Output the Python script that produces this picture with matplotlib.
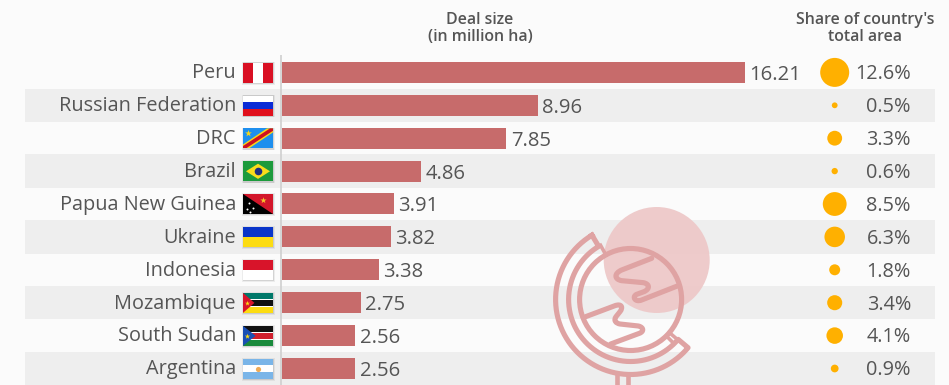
import numpy as np
import matplotlib
matplotlib.use("Agg")
import matplotlib.pyplot as plt
from matplotlib.patches import Circle, Rectangle, Polygon, PathPatch
from matplotlib.path import Path

countries = ["Peru", "Russian Federation", "DRC", "Brazil", "Papua New Guinea",
             "Ukraine", "Indonesia", "Mozambique", "South Sudan", "Argentina"]
deal_size = [16.21, 8.96, 7.85, 4.86, 3.91, 3.82, 3.38, 2.75, 2.56, 2.56]
share_pct = [12.6, 0.5, 3.3, 0.6, 8.5, 6.3, 1.8, 3.4, 4.1, 0.9]
header_deal = "Deal size\n(in million ha)"
header_share = "Share of country's\ntotal area"

BG = "#fbfbfb"; BAND = "#eeeeee"; BAR = "#c76b6b"; TXT = "#555555"; GOLD = "#ffb000"
W, H = 949, 385
plt.rcParams["font.family"] = ["Open Sans", "DejaVu Sans"]
fig = plt.figure(figsize=(W/100, H/100), dpi=100, facecolor=BG)

px = fig.add_axes([0, 0, 1, 1], zorder=1)
px.set_xlim(0, W); px.set_ylim(H, 0); px.axis("off")

Y0, DY = 72.4, 32.9
PX_PER_UNIT = 28.56
X0 = 282
ax = fig.add_axes([X0/W, 0, 1-X0/W, 1], zorder=2)
ax.patch.set_alpha(0)
ax.set_xlim(0, (W-X0)/PX_PER_UNIT)
ax.set_ylim((H-Y0)/DY, -Y0/DY)
ax.axis("off")

rows = np.arange(len(countries))
FS = 14.3
for i in rows:
    yc = Y0 + DY*i
    if i % 2 == 1:
        px.add_patch(Rectangle((25, yc-16.7), 910, 33.4, fc=BAND, ec="none", zorder=0))
    px.text(236, yc+0.8, countries[i], ha="right", va="center", fontsize=FS, color=TXT, zorder=5)

ax.barh(rows, deal_size, height=21/DY, color=BAR, zorder=2)
for i in rows:
    ax.annotate(f"{deal_size[i]:.2f}", (deal_size[i], i), xytext=(3.2, -1.8), textcoords="offset points",
                ha="left", va="center", fontsize=14.6, color=TXT)
    px.text(911, Y0+DY*i+1.8, f"{share_pct[i]:.1f}%", ha="right", va="center", fontsize=FS, color=TXT, zorder=5)

px.scatter([834.7]*len(rows), Y0+DY*rows, s=np.array(share_pct)*34.6, color=GOLD, linewidths=0, zorder=4)
px.plot([281.3, 281.3], [55, H], color="#cfcfcf", lw=1.2, zorder=3, solid_capstyle="butt")

px.text(480, 28.3, header_deal, ha="center", va="center", fontsize=11.4, color=TXT,
        fontweight="semibold", linespacing=1.12)
px.text(865, 28.3, header_share, ha="center", va="center", fontsize=11.4, color=TXT,
        fontweight="semibold", linespacing=1.12)

FX, FW, FH = 243, 30, 20
def flag(i, draw):
    y = Y0 + DY*i - FH/2 + 0.2
    for grow, al in ((1.4, 0.06), (0.7, 0.10)):
        px.add_patch(Rectangle((FX-grow+0.3, y-grow+0.5), FW+2*grow, FH+2*grow, fc="#000000", alpha=al, ec="none", zorder=3))
    clip = Rectangle((FX, y), FW, FH, transform=px.transData)
    def R(u, v, w, h, c):
        p = Rectangle((FX+u*FW, y+v*FH), w*FW, h*FH, fc=c, ec="none", zorder=4)
        px.add_patch(p); p.set_clip_path(clip)
    def P(pts, c):
        p = Polygon([(FX+a*FW, y+b*FH) for a, b in pts], closed=True, fc=c, ec="none", zorder=4.2)
        px.add_patch(p); p.set_clip_path(clip)
    def S(u, v, s, c, m="*"):
        px.scatter([FX+u*FW], [y+v*FH], s=s, c=c, marker=m, linewidths=0, zorder=4.4)
    draw(R, P, S)

def peru(R, P, S):
    R(0, 0, 1/3, 1, "#d91023"); R(1/3, 0, 1/3, 1, "#ffffff"); R(2/3, 0, 1/3, 1, "#d91023")
def russia(R, P, S):
    R(0, 0, 1, 1/3, "#ffffff"); R(0, 1/3, 1, 1/3, "#0a2bd6"); R(0, 2/3, 1, 1/3, "#e0101c")
def drc(R, P, S):
    R(0, 0, 1, 1, "#1e8fee")
    P([(0, .8), (0, 1), (.2, 1), (1, .2), (1, 0), (.8, 0)], "#f7d618")
    P([(0, .88), (0, 1), (.1, 1), (1, .12), (1, 0), (.9, 0)], "#ce1021")
    S(.16, .22, 26, "#f7d618")
def brazil(R, P, S):
    R(0, 0, 1, 1, "#1c9a3c")
    P([(.5, .12), (.9, .5), (.5, .88), (.1, .5)], "#f9dc1c")
    S(.5, .5, 30, "#1f2f80", "o")
def png(R, P, S):
    R(0, 0, 1, 1, "#000000")
    P([(0, 0), (1, 0), (1, 1)], "#d3162a")
    S(.68, .3, 22, "#f6c52c")
    for u, v in [(.2, .45), (.32, .68), (.15, .75), (.25, .9)]:
        S(u, v, 2, "#ffffff", "o")
def ukraine(R, P, S):
    R(0, 0, 1, .5, "#0a35c9"); R(0, .5, 1, .5, "#fcdc12")
def indonesia(R, P, S):
    R(0, 0, 1, .5, "#d8142a"); R(0, .5, 1, .5, "#ffffff")
def mozambique(R, P, S):
    R(0, 0, 1, .31, "#00786a"); R(0, .31, 1, .38, "#ffffff")
    R(0, .36, 1, .28, "#111111"); R(0, .69, 1, .31, "#fcdc12")
    P([(0, 0), (.38, .5), (0, 1)], "#d8142a")
    S(.13, .5, 14, "#fcdc12")
def south_sudan(R, P, S):
    R(0, 0, 1, .31, "#111111"); R(0, .31, 1, .38, "#ffffff")
    R(0, .36, 1, .28, "#d01f2e"); R(0, .69, 1, .31, "#1a8a3c")
    P([(0, 0), (.42, .5), (0, 1)], "#1a4fb4")
    S(.15, .5, 16, "#fcdc12")
def argentina(R, P, S):
    R(0, 0, 1, 1/3, "#7ab5e8"); R(0, 1/3, 1, 1/3, "#ffffff"); R(0, 2/3, 1, 1/3, "#7ab5e8")
    S(.5, .5, 14, "#eeaa55", "o")

for i, d in enumerate([peru, russia, drc, brazil, png, ukraine, indonesia, mozambique, south_sudan, argentina]):
    flag(i, d)

# watermark globe
GC = "#dfa3a3"; LW = 3.7
px.add_patch(Circle((656.7, 260), 53, fc="#edc8c8", alpha=0.93, ec="none", zorder=6))
cx, cy = 630.6, 299.5
px.add_patch(Circle((cx, cy), 51, fc="none", ec=GC, lw=LW, zorder=7))
def to_fig(a, b):
    return (540+a/3, 190+b/3)
def curve(start, segs):
    verts = [to_fig(*start)]; codes = [Path.MOVETO]
    for s in segs:
        if len(s) == 2:
            verts.append(to_fig(*s)); codes.append(Path.LINETO)
        else:
            verts += [to_fig(s[0], s[1]), to_fig(s[2], s[3]), to_fig(s[4], s[5])]
            codes += [Path.CURVE4]*3
    px.add_patch(PathPatch(Path(verts, codes), fc="none", ec=GC, lw=LW, capstyle="round", joinstyle="round", zorder=7))
curve((335, 205), [(245, 240), (222, 250, 222, 268, 245, 272), (310, 278),
                   (330, 282, 330, 297, 312, 305), (290, 313), (275, 320, 285, 338, 305, 330), (412, 288)])
curve((137, 380), [(225, 347), (245, 340, 250, 352, 240, 365), (228, 380),
                   (220, 392, 228, 400, 240, 402), (295, 408), (312, 412, 312, 425, 298, 430), (212, 462)])
a0, a1 = 121, 320
t = np.radians(np.linspace(a0, a1, 120))
ro, ri = 75, 62
xo, yo = cx+ro*np.cos(t), cy-ro*np.sin(t)
xi, yi = cx+ri*np.cos(t), cy-ri*np.sin(t)
px.plot(np.r_[xo, xi[::-1], xo[0]], np.r_[yo, yi[::-1], yo[0]], color=GC, lw=LW, solid_joinstyle="round", zorder=7)
for ang, d in ((119, 0), (317, -2.5), (317, 2.5)):
    a = np.radians(ang + d)
    px.plot([cx+51*np.cos(a), cx+62*np.cos(a)], [cy-51*np.sin(a), cy-62*np.sin(a)], color=GC, lw=LW*0.7, zorder=7)
for x in (617.5, 627.8):
    px.plot([x, x], [375, H+3], color=GC, lw=LW*0.9, zorder=7)

fig.savefig("out.png", dpi=100, facecolor=BG)
